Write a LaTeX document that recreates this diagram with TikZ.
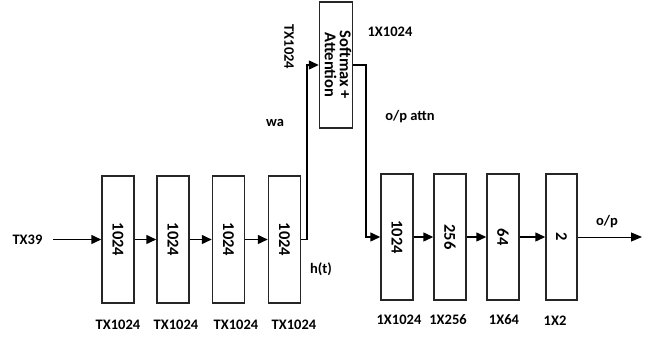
\documentclass[tikz,border=0pt]{standalone}
\usepackage{fontspec}
\setmainfont{Carlito}
\usetikzlibrary{arrows.meta}
\begin{document}
\begin{tikzpicture}[x=1pt,y=-1pt,
  layer/.style={draw=black!85,line width=1.5pt,fill=white,inner sep=0pt,
    minimum width=32pt,minimum height=127pt,font=\fontsize{16.5}{18}\selectfont\bfseries},
  lbl/.style={inner sep=0pt,font=\fontsize{14.5}{16}\selectfont\bfseries},
  arr/.style={line width=1.5pt,-{Triangle[length=10pt,width=9pt]}},
  thinarr/.style={line width=0.9pt,-{Triangle[length=11pt,width=9pt]}}]
\useasboundingbox (0,0) rectangle (657,339);
% left stack
\node[layer] (b1) at (118,239.5) {\rotatebox{-90}{1024}};
\node[layer] (b2) at (173,239.5) {\rotatebox{-90}{1024}};
\node[layer] (b3) at (228.5,239.5) {\rotatebox{-90}{1024}};
\node[layer] (b4) at (284.5,239.5) {\rotatebox{-90}{1024}};
% attention
\node[layer,minimum height=126pt] (att) at (336,65) {\rotatebox{-90}{\begin{tabular}{@{}c@{}}Softmax +\\[-3pt]Attention\end{tabular}}};
% right stack
\node[layer,minimum height=126pt] (b5) at (397,237) {\rotatebox{-90}{1024}};
\node[layer,minimum height=126pt] (b6) at (450,237) {\rotatebox{-90}{256}};
\node[layer,minimum height=126pt] (b7) at (503,237) {\rotatebox{-90}{64}};
\node[layer,minimum height=126pt,minimum width=31pt] (b8) at (561.5,237) {\rotatebox{-90}{2}};
% coordinates
\coordinate (in) at (53,239.5);
\coordinate (out) at (642,237);
\coordinate (c1) at (307,0);
\coordinate (c2) at (366,0);
% connectors
\draw[arr] (in) -- (b1);
\draw[arr] (b1) -- (b2);
\draw[arr] (b2) -- (b3);
\draw[arr] (b3) -- (b4);
\draw[arr] (b4.east) -- (b4.east -| c1) -- (c1 |- att.west) -- (att.west);
\draw[arr] (att.east) -- (att.east -| c2) -- (c2 |- b5.west) -- (b5.west);
\draw[arr] (b5) -- (b6);
\draw[arr] (b6) -- (b7);
\draw[arr] (b7) -- (b8);
\draw[thinarr] (b8) -- (out);
% labels
\node[lbl] (lin) at (27.5,239.5) {TX39};
\node[lbl] (l1) at (118,325) {TX1024};
\node[lbl] (l2) at (176,325) {TX1024};
\node[lbl] (l3) at (236,325) {TX1024};
\node[lbl] (l4) at (294,325) {TX1024};
\node[lbl] (r1) at (399,320) {1X1024};
\node[lbl] (r2) at (448,320) {1X256};
\node[lbl] (r3) at (504,320) {1X64};
\node[lbl] (r4) at (555,321) {1X2};
\node[lbl] (ht) at (321,269) {h(t)};
\node[lbl] (wa) at (275,123) {wa};
\node[lbl] (opa) at (410,117) {o/p attn};
\node[lbl] (att1) at (390,32) {1X1024};
\node[lbl,rotate=-90] (attT) at (289,47) {TX1024};
\node[lbl] (op) at (607,222) {o/p};
\end{tikzpicture}
\end{document}
